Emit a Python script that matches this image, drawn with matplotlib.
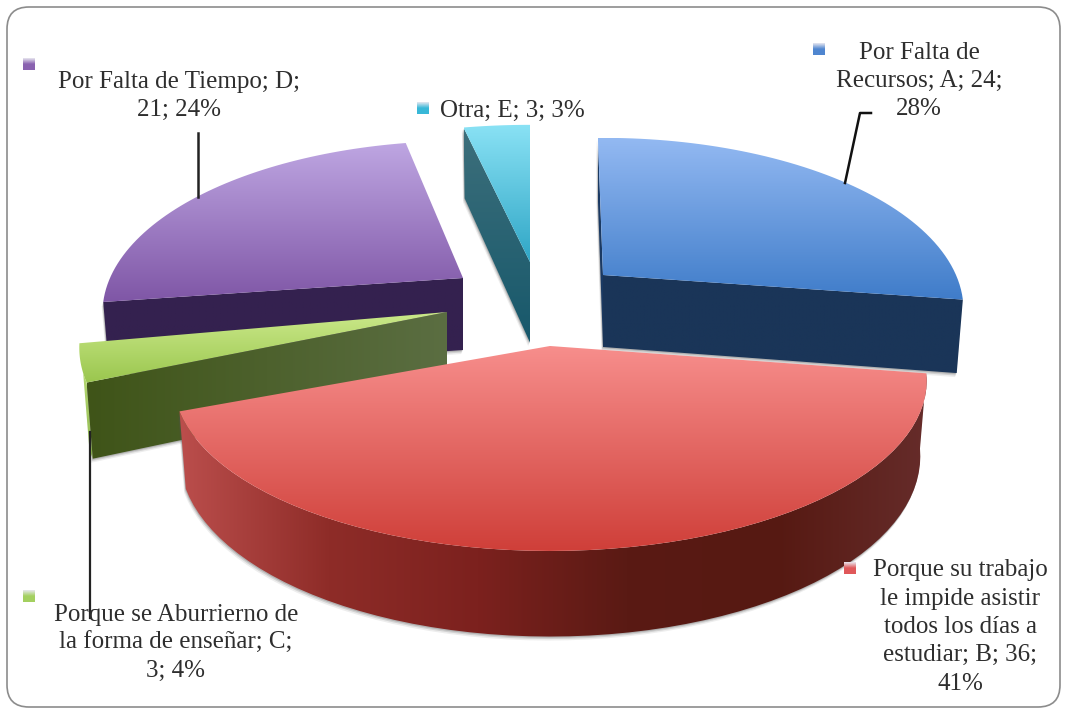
import numpy as np
import matplotlib
matplotlib.use("Agg")
import matplotlib.pyplot as plt
from matplotlib.colors import LinearSegmentedColormap
from matplotlib.patches import FancyBboxPatch, Polygon

# Datos del grafico
motivos = ["Por Falta de\nRecursos; A; 24;\n28%",
           "Porque su trabajo\nle impide asistir\ntodos los días a\nestudiar; B; 36;\n41%",
           "Porque se Aburrierno de\nla forma de enseñar; C;\n3; 4%",
           "Por Falta de Tiempo; D;\n21; 24%",
           "Otra; E; 3; 3%"]
valores = [24, 36, 3, 21, 3]

# Posicion de cada porcion (separada del centro) en pixeles
apices = [(603, 275), (550, 346), (447, 312), (463, 278), (530, 262)]
esc_x = [1.0, 1.045, 1.02, 1.0, 1.05]
esc_y = [1.0, 0.99, 1.02, 1.0, 1.0]
giros = [-1.0, 0.0, -1.0, 1.2, 0.0]
prof = [1.0, 1.02, 1.0, 1.0, 1.12]
colores_top = [("#93b9f2", "#3f7cc9"), ("#f78e8c", "#cf3f39"), ("#cbe98a", "#9ac64e"),
               ("#bea6e2", "#7f56a6"), ("#8ae2f5", "#2fa6c6")]
pos_texto = [(919, 81), (960, 627), (176, 643), (179, 96), (512, 111)]
pos_clave = [(819, 49), (850, 568), (29, 596), (29, 64), (423, 108)]
clave_color = ["#4f86d0", "#e0585a", "#a4d060", "#8a62b0", "#38b8d8"]

SX, SY, Q, DEPTH = 353.0, 165.0, 0.203, 72.0


def proyectar(theta, i, r=1.0, z=0.0):
    t = np.radians(theta + giros[i])
    y = np.cos(t) * r
    w = 1 + Q * y
    wz = 1 + 0.7 * Q * y
    return (apices[i][0] + SX * esc_x[i] * np.sin(t) * r / w * (1 - 0.017 * z),
            apices[i][1] - SY * esc_y[i] * y / w + DEPTH * prof[i] * z / wz)


def arco(a, b, i, z=0.0):
    th = np.linspace(a, b, 60)
    xs, ys = proyectar(th, i, z=z)
    return np.column_stack([xs, ys])


def relleno(pts, cols, zorder, vertical=True):
    pts = np.asarray(pts)
    x0, y0 = pts.min(axis=0)
    x1, y1 = pts.max(axis=0)
    cmap = LinearSegmentedColormap.from_list("g", cols)
    g = np.linspace(0, 1, 256)
    g = g[:, None] if vertical else g[None, :]
    im = ax.imshow(g, cmap=cmap, extent=(x0, x1, y1, y0), aspect="auto", zorder=zorder)
    poly = Polygon(pts, closed=True, fc="none", ec="none", zorder=zorder)
    ax.add_patch(poly)
    im.set_clip_path(poly)


def sombra(pts, zorder):
    for d, a in [(4, 0.10), (2.5, 0.18), (1.2, 0.25)]:
        ax.add_patch(Polygon(np.asarray(pts) + (-d * 0.4, d), closed=True, fc="#555555",
                             ec="none", alpha=a, zorder=zorder))


def cara(theta, i, cols, zorder, vertical=False):
    c0 = proyectar(theta, i, r=0.0)
    c1 = proyectar(theta, i)
    c2 = proyectar(theta, i, z=1.0)
    c3 = proyectar(theta, i, r=0.0, z=1.0)
    pts = [c0, c1, c2, c3]
    sombra(pts, zorder - 0.5)
    relleno(pts, cols, zorder, vertical)


fig = plt.figure(figsize=(10.67, 7.09), dpi=100)
ax = fig.add_axes([0, 0, 1, 1])
ax.add_patch(FancyBboxPatch((7, 7), 1053, 700, boxstyle="round,pad=0,rounding_size=22",
                            fc="white", ec="#8c8c8c", lw=1.2, zorder=0))

bordes = np.concatenate([[0], np.cumsum(valores)]) / sum(valores) * 360

# Caras laterales y superiores, de atras hacia adelante
# E: Otra
a, b = bordes[4], bordes[5]
cara(a, 4, ["#3d6f7b", "#17586b"], 2, vertical=True)
relleno(np.vstack([proyectar(0, 4, r=0.0), arco(a, b, 4)]), colores_top[4], 3)

# A: Recursos
a, b = bordes[0], bordes[1]
cara(a, 0, ["#1b3a63", "#1b3a63"], 2)
cara(b, 0, ["#1a3558", "#1a3558"], 2)
relleno(np.vstack([proyectar(0, 0, r=0.0), arco(a, b, 0)]), colores_top[0], 3)

# D: Tiempo
a, b = bordes[3], bordes[4]
cara(a, 3, ["#34214f", "#34214f"], 4)
relleno(np.vstack([proyectar(0, 3, r=0.0), arco(a, b, 3)]), colores_top[3], 5)

# C: Aburrierno
a, b = bordes[2], bordes[3]
franja = np.vstack([arco(a, a + 3, 2), arco(a, a + 3, 2, z=1.0)[::-1]])
relleno(franja, ["#b4d870", "#8fb850"], 5.8)
cara(a, 2, ["#3f5418", "#5b6e42"], 6)
relleno(np.vstack([proyectar(0, 2, r=0.0), arco(a, b, 2)]), colores_top[2], 7)

# B: trabajo
a, b = bordes[1], bordes[2]
pared = np.vstack([arco(a, b, 1), arco(a, b, 1, z=1.0)[::-1]])
sombra(pared, 7.5)
relleno(pared, ["#bb4e4c", "#8e2c28", "#7c211e", "#5a1a14", "#561912", "#662c2a"], 8, vertical=False)
relleno(np.vstack([proyectar(0, 1, r=0.0), arco(a, b, 1)]), colores_top[1], 9)

# Lineas guia
ax.plot([198, 198], [133, 197], color="#222222", lw=1.8, zorder=12)
ax.plot([871, 860, 845], [113, 113, 183], color="#111111", lw=1.8, zorder=12)
ax.plot([90, 90], [432, 618], color="#222222", lw=1.6, zorder=12)

# Etiquetas
for (x, y), txt in zip(pos_texto, motivos):
    ax.text(x, y, txt, ha="center", va="center", family="Liberation Serif", fontsize=18,
            color="#2e2e2e", linespacing=1.37, zorder=13)
for (x, y), col in zip(pos_clave, clave_color):
    relleno([(x - 6, y - 6), (x + 6, y - 6), (x + 6, y + 6), (x - 6, y + 6)], ["#e8e8f0", col, col], 13)

ax.set_xlim(0, 1067)
ax.set_ylim(709, 0)
ax.axis("off")
fig.savefig("out.png", dpi=100)
